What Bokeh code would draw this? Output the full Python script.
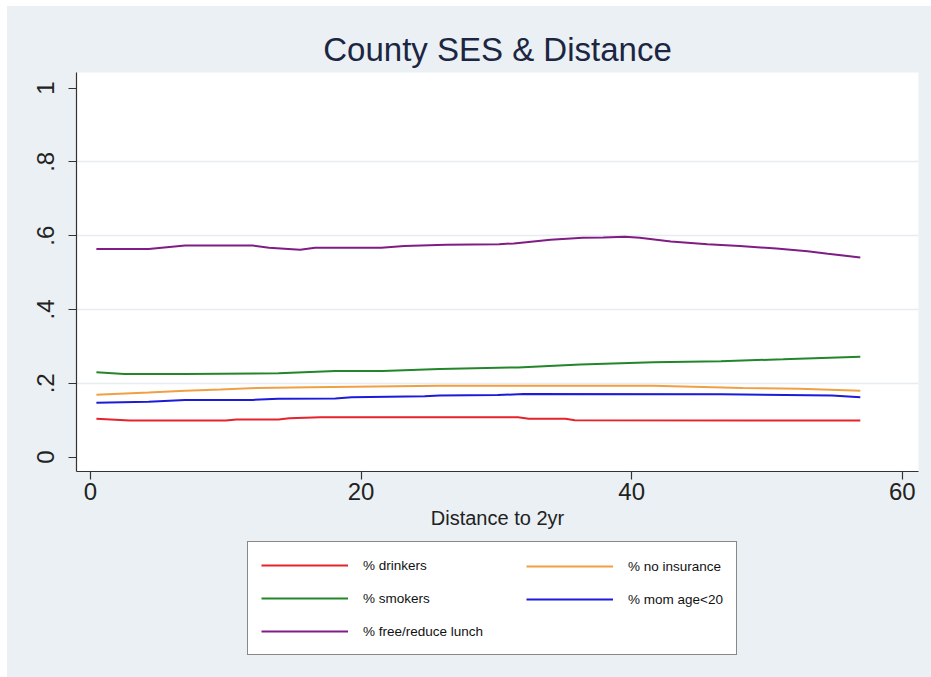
from bokeh.plotting import figure
from bokeh.models import Legend, LegendItem, FixedTicker, Range1d
from bokeh.layouts import column
from bokeh.embed import file_html
from bokeh.resources import INLINE

# Smoothed county-level shares by distance to the nearest 2-year college
drinkers_x = [0.44, 2.9, 10.0, 10.8, 13.9, 14.7, 17.0, 31.6, 32.4, 35.1, 35.8, 56.9]
drinkers_y = [0.104, 0.099, 0.099, 0.102, 0.102, 0.105, 0.108, 0.108, 0.104, 0.104, 0.100, 0.099]

insurance_x = [0.44, 4.3, 7.0, 9.6, 12.3, 16.2, 25.8, 41.6, 48.2, 52.4, 56.9]
insurance_y = [0.169, 0.175, 0.180, 0.183, 0.187, 0.189, 0.193, 0.193, 0.187, 0.185, 0.180]

smokers_x = [0.44, 2.5, 7.0, 13.9, 18.1, 21.6, 25.8, 31.6, 36.2, 41.6, 46.6, 51.2, 56.9]
smokers_y = [0.230, 0.225, 0.225, 0.227, 0.233, 0.233, 0.239, 0.243, 0.251, 0.257, 0.260, 0.265, 0.272]

momage_x = [0.44, 4.3, 7.0, 12.0, 13.9, 18.1, 19.3, 24.7, 25.8, 30.1, 32.0, 46.6, 54.8, 56.9]
momage_y = [0.147, 0.150, 0.155, 0.155, 0.158, 0.159, 0.162, 0.165, 0.167, 0.168, 0.171, 0.170, 0.167, 0.162]

lunch_x = [0.44, 4.3, 7.0, 12.0, 13.2, 15.5, 16.6, 21.5, 23.2, 26.3, 30.2, 31.3, 34.0,
           36.4, 37.9, 39.5, 40.6, 42.9, 45.6, 48.0, 50.7, 53.0, 54.5, 56.9]
lunch_y = [0.564, 0.564, 0.573, 0.573, 0.567, 0.562, 0.567, 0.567, 0.572, 0.575, 0.577, 0.579, 0.589,
           0.594, 0.595, 0.597, 0.594, 0.584, 0.577, 0.572, 0.565, 0.558, 0.551, 0.541]

series_labels = ["% drinkers", "% no insurance", "% smokers", "% mom age<20", "% free/reduce lunch"]
series_colors = ["#e5232b", "#f0a043", "#23862a", "#1b1bd9", "#7f1d84"]

x_ticks = [0, 20, 40, 60]
y_ticks = [0, 0.2, 0.4, 0.6, 0.8, 1.0]
y_tick_labels = {0: "0", 0.2: ".2", 0.4: ".4", 0.6: ".6", 0.8: ".8", 1.0: "1"}

FONT = "Liberation Sans"
BG = "#eaf0f3"
W = 924
BORDERS = dict(min_border_left=69, min_border_right=13)

# ---- main chart ----
p = figure(
    width=W, height=534,
    x_range=Range1d(-1.03, 61.2), y_range=Range1d(-0.039, 1.042),
    output_backend="svg", toolbar_location=None,
    min_border_top=66, min_border_bottom=69, **BORDERS,
    background_fill_color="white", border_fill_color=BG, outline_line_color=None,
)

p.title.text = "County SES & Distance"
p.title.align = "center"
p.title.text_font = FONT
p.title.text_font_size = "33px"
p.title.text_font_style = "normal"
p.title.text_color = "#1c2541"
p.title.standoff = 9

for ax in (p.xaxis, p.yaxis):
    ax.axis_line_color = "#333333"
    ax.axis_line_width = 1.2
    ax.major_tick_line_color = "#333333"
    ax.major_tick_line_width = 1.2
    ax.major_tick_out = 8
    ax.major_tick_in = 0
    ax.minor_tick_line_color = None
    ax.major_label_text_font = FONT
    ax.major_label_text_font_size = "24px"
    ax.major_label_text_color = "#222222"
    ax.axis_label_text_font = FONT
    ax.axis_label_text_font_style = "normal"
    ax.axis_label_text_color = "#222222"

p.xaxis.ticker = FixedTicker(ticks=x_ticks)
p.xaxis.axis_label = "Distance to 2yr"
p.xaxis.axis_label_text_font_size = "20px"
p.xaxis.axis_label_standoff = 4
p.xaxis.major_label_standoff = 3

p.yaxis.ticker = FixedTicker(ticks=y_ticks)
p.yaxis.major_label_overrides = y_tick_labels
p.yaxis.major_label_orientation = "parallel"
p.yaxis.major_label_standoff = 14

p.xgrid.grid_line_color = None
p.ygrid.ticker = FixedTicker(ticks=[0.2, 0.4, 0.6, 0.8])
p.ygrid.grid_line_color = "#e6ecef"
p.ygrid.grid_line_width = 1.5

series = [(drinkers_x, drinkers_y), (insurance_x, insurance_y), (smokers_x, smokers_y),
          (momage_x, momage_y), (lunch_x, lunch_y)]
for (xs, ys), c in zip(series, series_colors):
    p.line(xs, ys, line_color=c, line_width=2)

# ---- key strip below the chart, holding the boxed two-column legend ----
k = figure(
    width=W, height=137, x_range=Range1d(0, 1), y_range=Range1d(0, 1),
    x_axis_type=None, y_axis_type=None,
    output_backend="svg", toolbar_location=None,
    min_border_top=0, min_border_bottom=0, **BORDERS,
    background_fill_color=BG, border_fill_color=BG, outline_line_color=None,
)
k.grid.visible = False

# swatch carriers for the key (a single NaN point each, nothing visible)
nan = float("nan")
key_lines = {lab: k.line([nan], [nan], line_color=c, line_width=2)
             for lab, c in zip(series_labels, series_colors)}

legend_style = dict(
    orientation="vertical", margin=0, padding=13, spacing=13,
    glyph_width=87, glyph_height=20, label_height=20, label_standoff=15,
    label_text_font=FONT, label_text_font_size="13.5px", label_text_color="#111111",
)

left_col = ["% drinkers", "% smokers", "% free/reduce lunch"]
right_col = ["% no insurance", "% mom age<20"]

leg1 = Legend(items=[LegendItem(label=l, renderers=[key_lines[l]]) for l in left_col],
              location=(171, 22), label_width=360,
              border_line_color="#111111", border_line_width=1,
              background_fill_color="white", background_fill_alpha=1.0, **legend_style)
leg2 = Legend(items=[LegendItem(label=l, renderers=[key_lines[l]]) for l in right_col],
              location=(450, 68), label_width=80,
              border_line_color=None, background_fill_alpha=0.0, **legend_style)
k.add_layout(leg1)
k.add_layout(leg2)

layout = column(p, k, spacing=0, margin=(6, 0, 0, 7),
                styles={"background-color": BG})

open("out.html", "w").write(file_html(layout, INLINE))
